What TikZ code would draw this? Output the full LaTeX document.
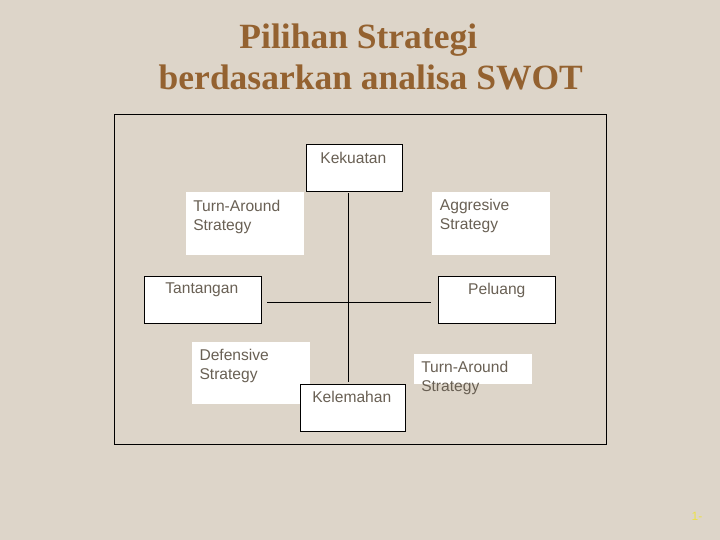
\documentclass[tikz,border=0pt]{standalone}
\usepackage{fontspec}
\setmainfont{Liberation Sans}
\newfontfamily\titlefont{Liberation Serif}
\usetikzlibrary{positioning}
\definecolor{paper}{RGB}{221,213,201}
\definecolor{titlebrown}{RGB}{148,98,48}
\definecolor{textgray}{RGB}{105,96,84}
\definecolor{pageyellow}{RGB}{236,226,70}

\begin{document}
\begin{tikzpicture}[x=1pt, y=-1pt,
	frame box/.style={draw, line width=1pt, inner sep=0pt, outer sep=0pt},
	swot box/.style={draw, fill=white, line width=1pt, inner sep=0pt, outer sep=0pt},
	strategy box/.style={fill=white, inner sep=0pt, outer sep=0pt},
	box text/.style={inner sep=0pt, text=textgray, align=left, font=\fontsize{15.6}{19}\selectfont},
	title text/.style={inner sep=0pt, anchor=base, text=titlebrown, font=\titlefont\bfseries\fontsize{35.5}{41}\selectfont},
	axis line/.style={line width=1pt}]
	
	\fill[paper] (0,0) rectangle (720,540);
	
	\node[title text] (title1) at (358.3,48.3) {Pilihan Strategi};
	\node[title text] (title2) at (370.8,89.3) {berdasarkan analisa SWOT};
	
	\node[frame box, minimum width=492.4, minimum height=329.7] (frame) at (360.5,279.2) {};
	
	\node[swot box, minimum width=96, minimum height=46.7] (kek) at (354.3,167.7) {};
	\node[strategy box, minimum width=117.7, minimum height=62.4] (tl) at (244.9,223.5) {};
	\node[strategy box, minimum width=117.7, minimum height=62.4] (agr) at (490.9,223.5) {};
	\node[swot box, minimum width=117, minimum height=46.7] (tan) at (202.8,299.7) {};
	\node[swot box, minimum width=117, minimum height=46.7] (pel) at (496.8,299.7) {};
	\node[strategy box, minimum width=117.7, minimum height=62] (def) at (250.9,373.3) {};
	\node[swot box, minimum width=105, minimum height=46.7] (kel) at (352.8,407.7) {};
	\node[strategy box, minimum width=117.7, minimum height=30.3] (br) at (472.9,369.2) {};
	
	\coordinate (mid) at (348.3,302);
	\draw[axis line, shorten <=2.3pt, shorten >=2.6pt] (kek.south -| mid) -- (kel.north -| mid);
	\draw[axis line, shorten <=5.7pt, shorten >=7.6pt] (tan.east |- mid) -- (pel.west |- mid);
	
	\node[box text, below=8pt of kek.north, xshift=-1pt] (kekt) {Kekuatan};
	\node[box text, below right=8pt and 7pt of tl.north west] (tlt) {Turn-Around\\Strategy};
	\node[box text, below right=7pt and 7.7pt of agr.north west] (agrt) {Aggresive\\Strategy};
	\node[box text, below=6.5pt of tan.north, xshift=-1pt] (tant) {Tantangan};
	\node[box text, below=6.5pt of pel.north] (pelt) {Peluang};
	\node[box text, below right=6.7pt and 7.3pt of def.north west] (deft) {Defensive\\Strategy};
	\node[box text, below=6.7pt of kel.north, xshift=-1pt] (kelt) {Kelemahan};
	\node[box text, below right=6.7pt and 7pt of br.north west] (brt) {Turn-Around\\Strategy};
	
	\node[inner sep=0pt, text=pageyellow, font=\fontsize{12}{14}\selectfont] (page) at (697,516) {1-};
\end{tikzpicture}
\end{document}
